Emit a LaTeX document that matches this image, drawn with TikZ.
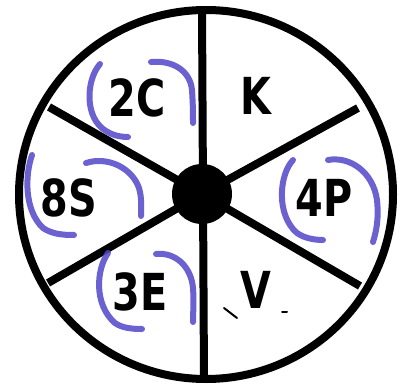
\documentclass[tikz,border=0pt]{standalone}
\usepackage{fontspec}
\setmainfont{DejaVu Sans}
\begin{document}
\begin{tikzpicture}[x=1pt,y=-1pt,
  ink/.style={draw=black,line width=8pt},
  crayon/.style={draw=crayonblue,line width=6pt,line cap=round,opacity=0.85},
  lbl/.style={font=\fontsize{51}{51}\selectfont\bfseries,xscale=0.78,inner sep=0pt}]
\definecolor{crayonblue}{RGB}{82,70,200}
\useasboundingbox (0,0) rectangle (401,385);
\fill[white] (0,0) rectangle (401,385);
% rim
\coordinate (c) at (206,194.5);
\draw[ink] (c) ellipse [x radius=187, y radius=184.5];
% hub and spokes
\coordinate (hc) at (202,194);
\coordinate (top) at (202,8);
\coordinate (bot) at (204,382);
\coordinate (ul) at (49,107);
\coordinate (ur) at (358,108);
\coordinate (ll) at (48,283);
\coordinate (lr) at (360,286);
\draw[ink] (top) -- (bot);
\draw[ink] (hc) -- (ul);
\draw[ink] (hc) -- (ur);
\draw[ink] (hc) -- (ll);
\draw[ink] (hc) -- (lr);
\node[circle,fill=black,minimum size=60pt,inner sep=0pt] (hub) at (hc) {};
% blue arcs
\draw[crayon] (100,64) .. controls (86,80) and (84,118) .. (106,131) .. controls (112,135) and (120,137) .. (128,137);
\draw[crayon] (151,62) .. controls (172,60) and (190,70) .. (192,90) .. controls (193,105) and (193,115) .. (193,123);
\draw[crayon] (32,155) .. controls (25,175) and (24,210) .. (43,228) .. controls (52,234) and (62,235) .. (74,235);
\draw[crayon] (86,163) .. controls (108,156) and (132,168) .. (139,188) .. controls (142,198) and (141,208) .. (141,216);
\draw[crayon] (293,160) .. controls (279,175) and (276,215) .. (297,233) .. controls (304,238) and (314,240) .. (323,240);
\draw[crayon] (328,160) .. controls (350,156) and (373,172) .. (377,200) .. controls (379,220) and (376,232) .. (373,242);
\draw[crayon] (108,253) .. controls (96,270) and (94,305) .. (115,323) .. controls (122,328) and (132,329) .. (142,329);
\draw[crayon] (156,254) .. controls (175,252) and (191,266) .. (193,288) .. controls (194,302) and (193,313) .. (193,322);
% stray marks
\coordinate (m1) at (224,308);
\coordinate (m2) at (237,318);
\coordinate (m3) at (282,312);
\coordinate (m4) at (287,312);
\draw[black,line width=2pt,line cap=round] (m1) -- (m2);
\draw[black,line width=2pt,line cap=round] (m3) -- (m4);
% labels
\node[lbl] (l2c) at (137,98) {2C};
\node[lbl] (lk) at (256,96) {K};
\node[lbl] (l8s) at (69,198) {8S};
\node[lbl] (l4p) at (324,198) {4P};
\node[lbl] (l3e) at (140,292) {3E};
\node[lbl] (lv) at (256,290) {V};
\end{tikzpicture}
\end{document}
